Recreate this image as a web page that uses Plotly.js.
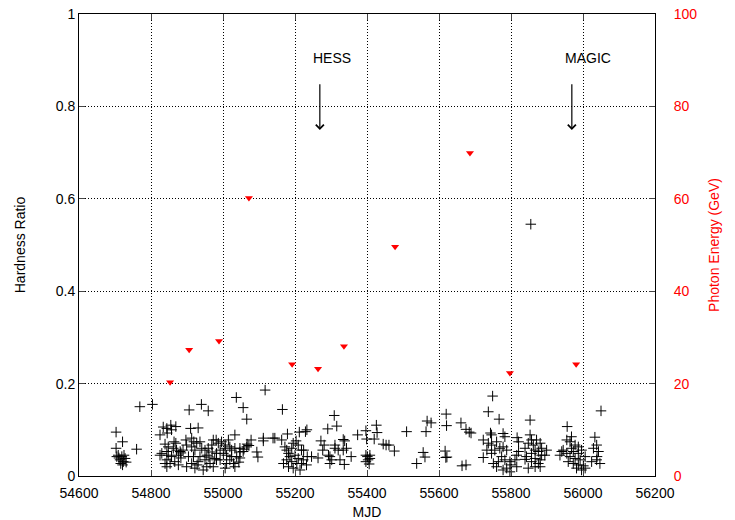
<!DOCTYPE html>
<html>
<head>
<meta charset="utf-8">
<script src="https://cdn.plot.ly/plotly-3.0.1.min.js"></script>
<style>html,body{margin:0;padding:0;background:#fff;}#chart{width:735px;height:520px;}</style>
</head>
<body>
<div id="chart"></div>
<script>
// Hardness ratio points (MJD, ratio)
const hrMJD = [
54703,54721,54760,54703,54709,54719,54728,54714,54723,54721,54716,54725,54705,54731,54711,54769,54804,
54834,54855,54844,54869,54825,54845,54857,54864,54869,54839,54848,54862,54871,54881,54844,54830,54848,54857,54844,54853,54866,54876,54825,54839,54844,54876,54883,
54906,54940,54959,54931,54910,54897,54913,54919,54899,54913,54927,54936,54922,54941,54950,54959,54973,54981,54969,54936,54950,54964,54955,54973,54899,54913,54922,54945,54918,54904,54931,54955,54977,54982,54889,54883,54928,54961,54970,
55037,55056,55066,55033,55067,55072,54987,54996,55006,55015,55019,55006,55024,54992,55033,55047,55056,55066,55001,55010,55024,55038,55019,55010,55029,55033,55006,54992,54982,55044,55047,55058,55047,
55117,55094,55097,55112,55112,55139,55144,55078,
55165,55163,55179,55172,55177,55191,55195,55203,55209,55182,55186,55200,55177,55191,55205,55182,55195,55168,55212,55233,55229,55218,55224,55234,55209,55223,55246,55232,55218,55214,
55309,55316,55291,55272,55334,55338,55264,55277,55293,55297,55302,55297,55311,55311,55320,55334,55343,55356,55337,55325,55281,
55374,55397,55426,55428,55399,55420,55445,55453,55461,55476,55397,55401,55408,55403,55397,55408,55406,
55510,55538,55556,55561,55567,55578,55564,55620,55621,55617,55619,55622,55661,55675,55684,55689,55664,55675,
55749,55737,55767,55743,55746,55723,55737,55746,55760,55778,55783,55769,55755,55778,55788,55733,55723,55751,55765,55783,55797,55746,55774,55788,55778,55797,55760,55800,55817,55821,55816,55821,55811,55816,
55853,55853,55857,55848,55862,55871,55881,55885,55867,55876,55857,55839,55843,55867,55881,55857,55876,55848,55867,55881,55899,55885,55839,55894,55855,
55956,55955,55968,55964,55978,55987,55945,55955,55973,55987,55996,55936,55964,55978,55992,56006,55959,55973,55987,56001,55996,56006,55982,55941,55968,
56050,56033,56038,56029,56043,56024,56038,56047,56039
];
const hrRatio = [
0.095,0.074,0.058,0.060,0.045,0.042,0.038,0.035,0.031,0.024,0.027,0.045,0.042,0.030,0.039,0.150,0.155,
0.106,0.110,0.103,0.107,0.089,0.093,0.100,0.074,0.071,0.069,0.063,0.060,0.056,0.053,0.053,0.049,0.045,0.042,0.035,0.027,0.031,0.045,0.045,0.027,0.020,0.024,0.039,
0.143,0.155,0.141,0.104,0.103,0.078,0.082,0.074,0.067,0.063,0.071,0.074,0.056,0.060,0.056,0.060,0.078,0.078,0.067,0.042,0.035,0.027,0.020,0.020,0.020,0.027,0.017,0.013,0.042,0.042,0.031,0.045,0.038,0.035,0.056,0.050,0.024,0.041,0.052,
0.170,0.148,0.123,0.089,0.069,0.066,0.071,0.074,0.067,0.078,0.063,0.060,0.056,0.056,0.060,0.060,0.053,0.063,0.049,0.045,0.042,0.042,0.035,0.027,0.027,0.020,0.017,0.035,0.049,0.030,0.052,0.058,0.039,
0.186,0.052,0.041,0.082,0.076,0.082,0.082,0.078,
0.144,0.078,0.091,0.063,0.056,0.060,0.071,0.076,0.067,0.049,0.042,0.045,0.035,0.031,0.027,0.020,0.017,0.027,0.095,0.100,0.096,0.056,0.056,0.042,0.038,0.035,0.042,0.024,0.027,0.013,
0.131,0.108,0.102,0.076,0.079,0.076,0.039,0.056,0.045,0.042,0.035,0.027,0.067,0.060,0.056,0.056,0.060,0.042,0.025,0.035,0.067,
0.089,0.098,0.110,0.094,0.080,0.080,0.069,0.067,0.067,0.054,0.045,0.042,0.038,0.035,0.031,0.045,0.026,
0.096,0.027,0.051,0.041,0.119,0.115,0.096,0.134,0.109,0.054,0.040,0.041,0.115,0.101,0.095,0.093,0.022,0.024,
0.173,0.139,0.123,0.093,0.089,0.078,0.071,0.067,0.074,0.092,0.085,0.060,0.056,0.063,0.056,0.056,0.040,0.027,0.031,0.035,0.031,0.049,0.042,0.017,0.013,0.009,0.020,0.024,0.083,0.074,0.045,0.053,0.035,0.020,
0.121,0.089,0.078,0.071,0.067,0.078,0.071,0.060,0.056,0.053,0.049,0.060,0.042,0.038,0.035,0.031,0.027,0.017,0.020,0.020,0.056,0.045,0.036,0.045,0.545,
0.107,0.078,0.085,0.074,0.067,0.063,0.056,0.049,0.053,0.049,0.056,0.045,0.042,0.038,0.035,0.042,0.031,0.027,0.024,0.022,0.013,0.017,0.017,0.053,0.060,
0.141,0.084,0.067,0.060,0.053,0.031,0.035,0.027,0.042
];
// Highest photon energy (MJD, GeV)
const peMJD = [54853,54906,54989,55072,55192,55264,55336,55478,55686,55797,55981];
const peGeV = [20.3,27.3,29.2,60.2,24.2,23.2,28.1,49.6,69.9,22.3,24.2];
// Observation labels
const obsNames = ["HESS","MAGIC"];
const obsArrowMJD = [55269,55969];
const obsTextMJD = [55303,56014];

const F = "Liberation Sans, Arial, Helvetica, sans-serif";
const traces = [
  {x: hrMJD, y: hrRatio, type: 'scatter', mode: 'markers', name: 'Hardness Ratio',
   marker: {symbol: 'cross-thin', size: 7.5, color: '#000', line: {color: '#000', width: 1}}},
  {x: peMJD, y: peGeV, type: 'scatter', mode: 'markers', yaxis: 'y2', name: 'Photon Energy',
   marker: {symbol: 'triangle-down', size: 7, color: '#ff0000', line: {width: 0}}}
];
const ann = [];
for (let i = 0; i < obsNames.length; i++) {
  ann.push({x: obsTextMJD[i], y: 0.905, xref: 'x', yref: 'y', text: obsNames[i], showarrow: false,
            font: {family: F, size: 14, color: '#000'}});
  ann.push({x: obsArrowMJD[i], y: 0.749, xref: 'x', yref: 'y', ax: obsArrowMJD[i], ay: 0.851,
            axref: 'x', ayref: 'y', text: '', showarrow: true, arrowhead: 4, arrowsize: 1.3,
            arrowwidth: 1.2, arrowcolor: '#000', standoff: 0});
}
const layout = {
  width: 735, height: 520, showlegend: false,
  paper_bgcolor: '#fff', plot_bgcolor: '#fff',
  margin: {l: 79, r: 80, t: 14, b: 44},
  font: {family: F, size: 14, color: '#000'},
  xaxis: {range: [54600, 56200], dtick: 200, tick0: 54600, tickformat: 'd', ticks: 'inside', ticklen: 6,
          ticklabelstandoff: 4,
          showline: true, linecolor: '#000', linewidth: 1, mirror: 'ticks',
          showgrid: true, gridcolor: '#000', griddash: '1px,2px', gridwidth: 1, zeroline: false,
          tickfont: {family: F, size: 14}, title: {text: 'MJD', font: {family: F, size: 14}, standoff: 8}},
  yaxis: {range: [0, 1], dtick: 0.2, ticks: 'inside', ticklen: 6,
          showline: true, linecolor: '#000', linewidth: 1, mirror: true,
          showgrid: true, gridcolor: '#000', griddash: '1px,2px', gridwidth: 1, zeroline: false,
          tickfont: {family: F, size: 14}, title: {text: 'Hardness Ratio', font: {family: F, size: 14}, standoff: 26}},
  yaxis2: {range: [0, 100], dtick: 20, overlaying: 'y', side: 'right', ticks: 'inside', ticklen: 6,
           ticklabelstandoff: 15,
           showline: true, linecolor: '#000', showgrid: false, zeroline: false,
           tickfont: {family: F, size: 14, color: '#ff0000'},
           title: {text: 'Photon Energy (GeV)', font: {family: F, size: 14, color: '#ff0000'}, standoff: 12}},
  annotations: ann
};
Plotly.newPlot('chart', traces, layout, {staticPlot: true, displayModeBar: false});
</script>
</body>
</html>
